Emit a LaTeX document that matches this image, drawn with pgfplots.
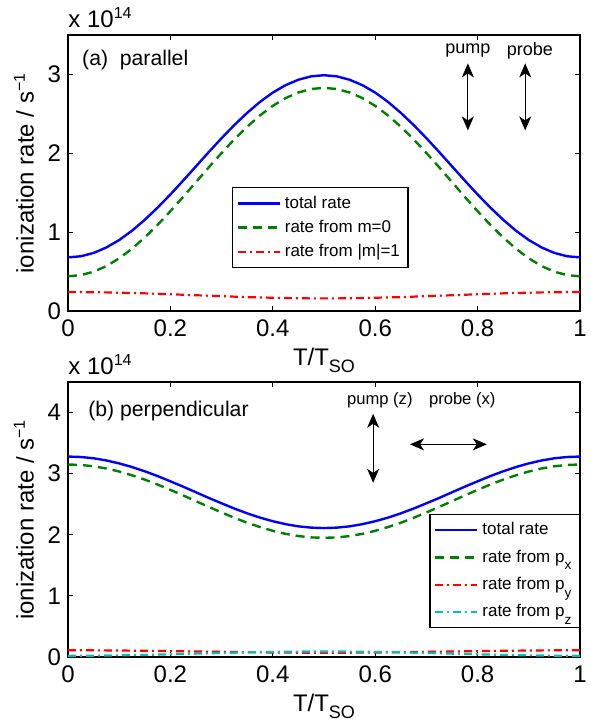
\documentclass[border=0pt]{standalone}
\usepackage{pgfplots}
\pgfplotsset{compat=1.18}
\usepackage{pgfplotstable}
\usepackage{fontspec}
\setmainfont{Liberation Sans}
\usetikzlibrary{arrows.meta}

\definecolor{mblue}{rgb}{0,0,1}
\definecolor{mgreen}{rgb}{0,0.5,0}
\definecolor{mred}{rgb}{1,0,0}
\definecolor{mcyan}{rgb}{0,0.75,0.75}

% lowered subscripts, as in the legend entries and the x label
\newcommand{\lsub}[2][0.45em]{\raisebox{-#1}{\fontsize{6.8}{7}\selectfont #2}}

% (a) parallel polarisation: total rate and contributions from m=0 and |m|=1
\pgfplotstableread{
T      tot    mzero  mone
0.000  0.680  0.440  0.240
0.025  0.694  0.455  0.240
0.050  0.736  0.498  0.238
0.075  0.806  0.570  0.236
0.100  0.900  0.668  0.232
0.125  1.018  0.790  0.228
0.150  1.157  0.933  0.224
0.175  1.311  1.092  0.218
0.200  1.478  1.266  0.212
0.225  1.654  1.448  0.206
0.250  1.835  1.635  0.200
0.275  2.016  1.822  0.194
0.300  2.192  2.004  0.188
0.325  2.359  2.178  0.182
0.350  2.513  2.337  0.176
0.375  2.652  2.480  0.172
0.400  2.770  2.602  0.168
0.425  2.864  2.700  0.164
0.450  2.933  2.771  0.162
0.475  2.976  2.815  0.160
0.500  2.990  2.830  0.160
0.525  2.976  2.815  0.160
0.550  2.933  2.771  0.162
0.575  2.864  2.700  0.164
0.600  2.770  2.602  0.168
0.625  2.652  2.480  0.172
0.650  2.513  2.337  0.176
0.675  2.359  2.178  0.182
0.700  2.192  2.004  0.188
0.725  2.016  1.822  0.194
0.750  1.835  1.635  0.200
0.775  1.654  1.448  0.206
0.800  1.478  1.266  0.212
0.825  1.311  1.092  0.218
0.850  1.157  0.933  0.224
0.875  1.018  0.790  0.228
0.900  0.900  0.668  0.232
0.925  0.806  0.570  0.236
0.950  0.736  0.498  0.238
0.975  0.694  0.455  0.240
1.000  0.680  0.440  0.240
}\parallel

% (b) perpendicular polarisation: total rate and contributions from p_x, p_y, p_z
\pgfplotstableread{
T      tot    px     py     pz
0.000  3.280  3.150  0.110  0.020
0.025  3.273  3.143  0.110  0.020
0.050  3.252  3.121  0.109  0.022
0.075  3.216  3.085  0.108  0.024
0.100  3.168  3.035  0.106  0.027
0.125  3.109  2.974  0.104  0.030
0.150  3.039  2.903  0.102  0.034
0.175  2.961  2.822  0.099  0.039
0.200  2.875  2.735  0.096  0.044
0.225  2.787  2.644  0.093  0.050
0.250  2.695  2.550  0.090  0.055
0.275  2.603  2.456  0.087  0.060
0.300  2.515  2.365  0.084  0.066
0.325  2.429  2.278  0.081  0.071
0.350  2.351  2.197  0.078  0.076
0.375  2.281  2.126  0.076  0.080
0.400  2.222  2.065  0.074  0.083
0.425  2.174  2.015  0.072  0.086
0.450  2.138  1.979  0.071  0.088
0.475  2.117  1.957  0.070  0.090
0.500  2.110  1.950  0.070  0.090
0.525  2.117  1.957  0.070  0.090
0.550  2.138  1.979  0.071  0.088
0.575  2.174  2.015  0.072  0.086
0.600  2.222  2.065  0.074  0.083
0.625  2.281  2.126  0.076  0.080
0.650  2.351  2.197  0.078  0.076
0.675  2.429  2.278  0.081  0.071
0.700  2.515  2.365  0.084  0.066
0.725  2.603  2.456  0.087  0.060
0.750  2.695  2.550  0.090  0.055
0.775  2.787  2.644  0.093  0.050
0.800  2.875  2.735  0.096  0.044
0.825  2.961  2.822  0.099  0.039
0.850  3.039  2.903  0.102  0.034
0.875  3.109  2.974  0.104  0.030
0.900  3.168  3.035  0.106  0.027
0.925  3.216  3.085  0.108  0.024
0.950  3.252  3.121  0.109  0.022
0.975  3.273  3.143  0.110  0.020
1.000  3.280  3.150  0.110  0.020
}\perpendicular

\pgfplotsset{
  rateaxis/.style={
    scale only axis, width=256pt,
    xmin=0, xmax=1, ymin=0,
    xtick={0,0.2,0.4,0.6,0.8,1},
    tick align=inside,
    major tick length=2.5pt,
    every tick/.style={black, line width=0.5pt},
    axis line style={line width=0.6pt},
    /pgf/number format/assume math mode=true,
    tick label style={font=\fontsize{12}{14}\selectfont},
    x tick label style={yshift=-1pt},
    label style={font=\fontsize{12}{14}\selectfont},
    xlabel={T/T\raisebox{-0.3em}{\fontsize{9}{10}\selectfont SO}},
    xlabel style={yshift=1.5pt},
    ylabel={ionization rate / s\textsuperscript{−1}},
    clip=false,
    legend cell align=left,
    legend image code/.code={\draw[##1] (0pt,0pt) -- (21pt,0pt);},
  },
  totline/.style={mblue, line width=1.2pt},
  dashline/.style={mgreen, line width=1.2pt, dash pattern=on 4.5pt off 3pt},
  dotline/.style={line width=1.1pt, dash pattern=on 4pt off 2pt on 1pt off 2pt},
}

\tikzset{dbl/.style={{Stealth[length=7pt,width=6pt,inset=2pt]}-{Stealth[length=7pt,width=6pt,inset=2pt]}, line width=0.5pt}}

\begin{document}
\begin{tikzpicture}
\useasboundingbox (-34pt,-31.5pt) rectangle (261.5pt,328.5pt);

% top panel
\begin{axis}[rateaxis, at={(0pt,173pt)}, anchor=south west,
  height=138pt, ymax=3.5, ytick={0,1,2,3},
  legend style={at={(0.32,0.449)}, anchor=north west, draw=black, line width=0.6pt,
    font=\fontsize{8.5}{10}\selectfont, row sep=0.5pt, inner sep=2pt}]
\addplot[totline] table[x=T, y=tot] {\parallel};
\addplot[dashline] table[x=T, y=mzero] {\parallel};
\addplot[dotline, mred] table[x=T, y=mone] {\parallel};
\legend{total rate, rate from m=0, rate from |m|=1}
\node[anchor=south west, inner sep=0pt, font=\fontsize{12}{14}\selectfont] at (rel axis cs:0,1) [yshift=3.5pt] {x 10\textsuperscript{14}};
\node[anchor=west, inner sep=0pt, font=\fontsize{10.6}{12}\selectfont] at (axis cs:0.027,3.18) {(a)\ \ parallel};
\node[font=\fontsize{9}{10}\selectfont] at (axis cs:0.781,3.30) {pump};
\node[font=\fontsize{9}{10}\selectfont] at (axis cs:0.902,3.30) {probe};
\draw[dbl] (axis cs:0.781,3.14) -- (axis cs:0.781,2.29);
\draw[dbl] (axis cs:0.893,3.14) -- (axis cs:0.893,2.29);
\end{axis}

% bottom panel
\begin{axis}[rateaxis, at={(0pt,0pt)}, anchor=south west,
  height=137.5pt, ymax=4.5, ytick={0,1,2,3,4},
  legend style={at={(1,0.52)}, anchor=north east, draw=black, line width=0.6pt,
    font=\fontsize{8.5}{10}\selectfont, row sep=2pt, inner sep=2pt}]
\addplot[totline] table[x=T, y=tot] {\perpendicular};
\addplot[dashline] table[x=T, y=px] {\perpendicular};
\addplot[dotline, mred] table[x=T, y=py] {\perpendicular};
\addplot[dotline, mcyan] table[x=T, y=pz] {\perpendicular};
\legend{total rate, rate from p\lsub{x}, rate from p\lsub{y}, rate from p\lsub{z}}
\node[anchor=south west, inner sep=0pt, font=\fontsize{12}{14}\selectfont] at (rel axis cs:0,1) [yshift=3.5pt] {x 10\textsuperscript{14}};
\node[anchor=west, inner sep=0pt, font=\fontsize{10.6}{12}\selectfont] at (axis cs:0.039,4.03) {(b) perpendicular};
\node[font=\fontsize{8.3}{10}\selectfont] at (axis cs:0.609,4.21) {pump (z)};
\node[font=\fontsize{8.3}{10}\selectfont] at (axis cs:0.770,4.21) {probe (x)};
\draw[dbl] (axis cs:0.596,3.98) -- (axis cs:0.596,2.85);
\draw[dbl] (axis cs:0.668,3.48) -- (axis cs:0.818,3.48);
\end{axis}
\end{tikzpicture}
\end{document}
